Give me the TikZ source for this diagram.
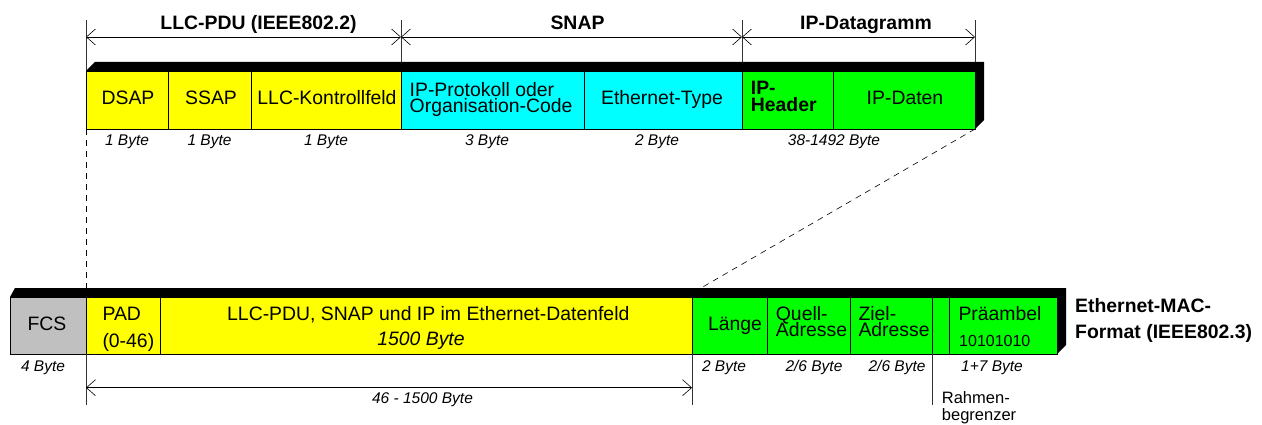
\documentclass[tikz,border=0pt]{standalone}
\usepackage{fontspec}
\setmainfont{Liberation Sans}
\usetikzlibrary{arrows.meta}

\definecolor{fyellow}{HTML}{FFFF00}
\definecolor{fcyan}{HTML}{00FFFF}
\definecolor{fgreen}{HTML}{00FF00}
\definecolor{fgray}{HTML}{C0C0C0}

% fixed line spacing, regardless of glyph heights
\newcommand\tightlines{\lineskiplimit=-30pt\relax}

\begin{document}
\begin{tikzpicture}[x=1pt,y=-1pt,
  field/.style={draw=black, line width=0.9pt, inner sep=0pt, outer sep=0pt,
    anchor=north west},
  toprow/.style={field, minimum height=58pt},
  botrow/.style={field, minimum height=57pt},
  txt/.style={inner sep=0pt, font=\fontsize{19.4pt}{16.7pt}\selectfont\tightlines},
  txtb/.style={inner sep=0pt, font=\fontsize{19.4pt}{16.7pt}\selectfont\bfseries\tightlines},
  head/.style={inner sep=0pt, anchor=base, font=\fontsize{19.4pt}{20pt}\selectfont\bfseries},
  bytes/.style={inner sep=0pt, anchor=base, font=\fontsize{15.5pt}{18pt}\selectfont\itshape},
  tick/.style={line width=0.6pt, draw=black!80},
  dimline/.style={line width=0.6pt,
    {Straight Barb[length=9pt,width=16pt]}-{Straight Barb[length=9pt,width=16pt]}},
  fold/.style={line width=0.6pt, dash pattern=on 6pt off 5pt}]

\useasboundingbox (0,0) rectangle (1262,425);

% ---------- 3D edges of the two frames ----------
\fill[black] (86,71) -- (95,62) -- (984,62) -- (984,120) -- (975,129) -- (975,71) -- cycle;
\fill[black] (10,297) -- (15,288) -- (1066,288) -- (1066,345) -- (1057,354) -- (1057,297) -- cycle;

% ---------- upper frame: LLC / SNAP / IP ----------
\node[toprow, fill=fyellow, minimum width=82pt]  (dsap)  at (86,71)  {};
\node[toprow, fill=fyellow, minimum width=83pt]  (ssap)  at (168,71) {};
\node[toprow, fill=fyellow, minimum width=150pt] (llc)   at (251,71) {};
\node[toprow, fill=fcyan,   minimum width=183pt] (proto) at (401,71) {};
\node[toprow, fill=fcyan,   minimum width=158pt] (etype) at (584,71) {};
\node[toprow, fill=fgreen,  minimum width=91pt]  (iphdr) at (742,71) {};
\node[toprow, fill=fgreen,  minimum width=142pt] (ipdat) at (833,71) {};

\node[txt, anchor=base] (tdsap)  at (128,104.3) {DSAP};
\node[txt, anchor=base] (tssap)  at (211,104.3) {SSAP};
\node[txt, anchor=base] (tllc)   at (327,104.3) {LLC-Kontrollfeld};
\node[txt, anchor=north west, align=left] (tproto) at (409.5,82)
  {IP-Protokoll oder\\Organisation-Code};
\node[txt, anchor=base] (tetype) at (662,104.3) {Ethernet-Type};
\node[txtb, anchor=north west, align=left] (tiphdr) at (750.7,81) {IP-\\Header};
\node[txt, anchor=base] (tipdat) at (905,104.3) {IP-Daten};

\node[bytes] (b1) at (127,146)   {1 Byte};
\node[bytes] (b2) at (209.5,146) {1 Byte};
\node[bytes] (b3) at (326,146)   {1 Byte};
\node[bytes] (b4) at (487,146)   {3 Byte};
\node[bytes] (b5) at (657,146)   {2 Byte};
\node[bytes] (b6) at (834,146)   {38-1492 Byte};

% headings with dimension lines
\node[head] (hllc)  at (258.5,30) {LLC-PDU (IEEE802.2)};
\node[head] (hsnap) at (577.5,30) {SNAP};
\node[head] (hip)   at (866,30)   {IP-Datagramm};

\coordinate (ta) at (86,20);  \coordinate (tb) at (401,20);
\coordinate (tc) at (742,20); \coordinate (td) at (975,20);
\coordinate (tb2) at (401,62); \coordinate (tc2) at (742,62); \coordinate (td2) at (975,62);
\draw[tick] (ta) -- (dsap.north west);
\draw[tick] (tb) -- (tb2);
\draw[tick] (tc) -- (tc2);
\draw[tick] (td) -- (td2);
\coordinate (da) at (86,37);  \coordinate (db) at (401,37);
\coordinate (dc) at (742,37); \coordinate (dd) at (975,37);
\draw[dimline] (da) -- (db);
\draw[dimline] (db) -- (dc);
\draw[dimline] (dc) -- (dd);

% ---------- fold lines to the lower frame ----------
\coordinate (fl) at (86,288);
\coordinate (fr) at (701,288);
\draw[fold] (dsap.south west) -- (fl);
\draw[fold] (ipdat.south east) -- (fr);

% ---------- lower frame: Ethernet MAC ----------
\node[botrow, fill=fgray,   minimum width=76pt]  (fcs)    at (10,297)  {};
\node[botrow, fill=fyellow, minimum width=74pt]  (pad)    at (86,297)  {};
\node[botrow, fill=fyellow, minimum width=532pt] (data)   at (160,297) {};
\node[botrow, fill=fgreen,  minimum width=75pt]  (laenge) at (692,297) {};
\node[botrow, fill=fgreen,  minimum width=83pt]  (quell)  at (767,297) {};
\node[botrow, fill=fgreen,  minimum width=82pt]  (ziel)   at (850,297) {};
\node[botrow, fill=fgreen,  minimum width=17pt]  (sfd)    at (932,297) {};
\node[botrow, fill=fgreen,  minimum width=108pt] (pre)    at (949,297) {};

\node[txt, anchor=base] (tfcs) at (47,330) {FCS};
\node[inner sep=0pt, anchor=north west, align=left,
  font=\fontsize{19.4pt}{27pt}\selectfont\tightlines] (tpad) at (102.3,307) {PAD\\(0-46)};
\node[txt, anchor=base] (tdata) at (428.3,320) {LLC-PDU, SNAP und IP im Ethernet-Datenfeld};
\node[inner sep=0pt, anchor=base, font=\fontsize{19.4pt}{20pt}\selectfont\itshape] (tdatasz) at (421,345) {1500 Byte};
\node[txt, anchor=base] (tlaenge) at (735,330) {Länge};
\node[txt, anchor=north west, align=left] (tquell) at (775.7,306) {Quell-\\Adresse};
\node[txt, anchor=north west, align=left] (tziel)  at (858.3,306) {Ziel-\\Adresse};
\node[txt, anchor=base west] (tpre) at (958.3,320.7) {Präambel};
\node[inner sep=0pt, anchor=base west, font=\fontsize{16pt}{18pt}\selectfont] (tprebits) at (959,346.7) {10101010};

\node[inner sep=0pt, anchor=north west, align=left,
  font=\fontsize{19.4pt}{26.7pt}\selectfont\bfseries\tightlines] (tmac) at (1075,297.8)
  {Ethernet-MAC-\\Format (IEEE802.3)};

\node[bytes] (c1) at (43,371)  {4 Byte};
\node[bytes] (c2) at (724,371) {2 Byte};
\node[bytes] (c3) at (814,371) {2/6 Byte};
\node[bytes] (c4) at (897,371) {2/6 Byte};
\node[bytes] (c5) at (992,371) {1+7 Byte};

% data field length
\coordinate (ea) at (86,405); \coordinate (eb) at (692,405); \coordinate (ec) at (932,405);
\draw[tick] (pad.south west) -- (ea);
\draw[tick] (laenge.south west) -- (eb);
\draw[tick] (sfd.south west) -- (ec);
\coordinate (ga) at (86,387.7); \coordinate (gb) at (692,387.7);
\draw[dimline] (ga) -- (gb);
\node[bytes] (c6) at (422.5,403.3) {46 - 1500 Byte};

\node[inner sep=0pt, anchor=north west, align=left,
  font=\fontsize{16.5pt}{16.7pt}\selectfont\tightlines] (trahmen) at (941.7,391.5)
  {Rahmen-\\begrenzer};

\end{tikzpicture}
\end{document}
